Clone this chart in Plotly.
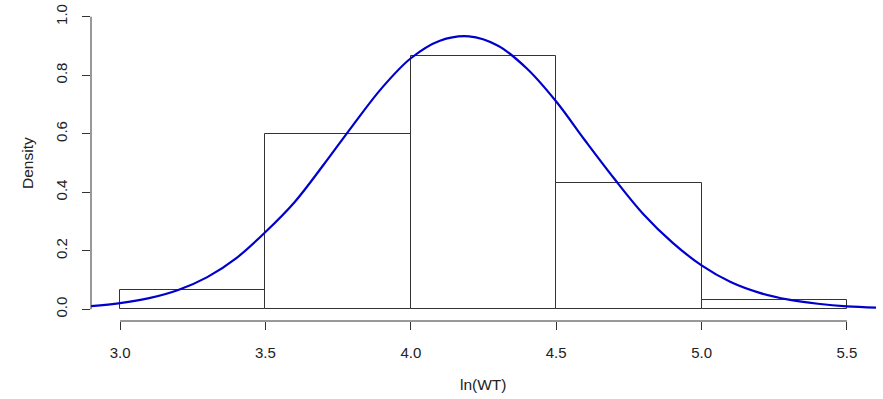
import plotly.graph_objects as go

# Histogram of ln(WT): bin edges and densities
bin_left = [3.0, 3.5, 4.0, 4.5, 5.0]
bin_width = 0.5
density = [0.0667, 0.6000, 0.8667, 0.4333, 0.0333]

# Fitted normal density curve, sampled along ln(WT)
curve_x = [2.9, 3.0, 3.1, 3.2, 3.3, 3.4, 3.5, 3.6, 3.7, 3.8, 3.9, 4.0, 4.1, 4.2,
           4.3, 4.4, 4.5, 4.6, 4.7, 4.8, 4.9, 5.0, 5.1, 5.2, 5.3, 5.4, 5.5, 5.6]
curve_y = [0.011, 0.021, 0.038, 0.066, 0.110, 0.175, 0.264, 0.366, 0.494, 0.628,
           0.756, 0.858, 0.918, 0.933, 0.901, 0.822, 0.710, 0.576, 0.446, 0.325,
           0.228, 0.150, 0.093, 0.056, 0.033, 0.019, 0.010, 0.006]

x_ticks = [3.0, 3.5, 4.0, 4.5, 5.0, 5.5]
y_ticks = [0.0, 0.2, 0.4, 0.6, 0.8, 1.0]

AXIS_COL = "#333333"
TEXT_COL = "#222222"
FONT = "Liberation Sans, Arial, sans-serif"

bin_centers = [b + bin_width / 2 for b in bin_left]

fig = go.Figure()
fig.add_trace(go.Bar(
    x=bin_centers, y=density, width=[bin_width] * len(density),
    marker=dict(color="white", line=dict(color="#333333", width=1)),
    showlegend=False, hoverinfo="skip",
))
fig.add_trace(go.Scatter(
    x=curve_x, y=curve_y, mode="lines",
    line=dict(color="#0000CD", width=2.2, shape="spline", smoothing=1.0),
    showlegend=False,
))

# R-style axis lines that span only the tick range
fig.add_shape(type="line", xref="x", yref="paper", x0=x_ticks[0], x1=x_ticks[-1],
              y0=0, y1=0, line=dict(color=AXIS_COL, width=1), layer="above")
fig.add_shape(type="line", xref="paper", yref="y", x0=0, x1=0,
              y0=y_ticks[0], y1=y_ticks[-1], line=dict(color=AXIS_COL, width=1), layer="above")

fig.add_annotation(text="ln(WT)", xref="paper", yref="paper", x=0.5, y=0,
                   yanchor="middle", yshift=-63, showarrow=False,
                   font=dict(family=FONT, size=15.5, color=TEXT_COL))
fig.add_annotation(text="Density", xref="paper", yref="paper", x=0, y=0.5,
                   xanchor="center", xshift=-64, textangle=-90, showarrow=False,
                   font=dict(family=FONT, size=15.5, color=TEXT_COL))

fig.update_layout(
    width=883, height=399,
    margin=dict(l=91, r=7, t=5, b=78),
    paper_bgcolor="white", plot_bgcolor="white",
    bargap=0,
    font=dict(family=FONT, size=15, color=TEXT_COL),
    xaxis=dict(range=[2.9, 5.6], tickvals=x_ticks, ticktext=[f"{v:.1f}" for v in x_ticks],
               ticks="outside", ticklen=8, tickcolor=AXIS_COL, tickwidth=1,
               showgrid=False, zeroline=False, showline=False, ticklabelstandoff=10),
    yaxis=dict(range=[-0.04, 1.04], tickvals=y_ticks, ticktext=[f"{v:.1f}" for v in y_ticks],
               ticks="outside", ticklen=8, tickcolor=AXIS_COL, tickwidth=1, tickangle=-90,
               showgrid=False, zeroline=False, showline=False, ticklabelstandoff=9),
)

fig.write_html("out.html")
